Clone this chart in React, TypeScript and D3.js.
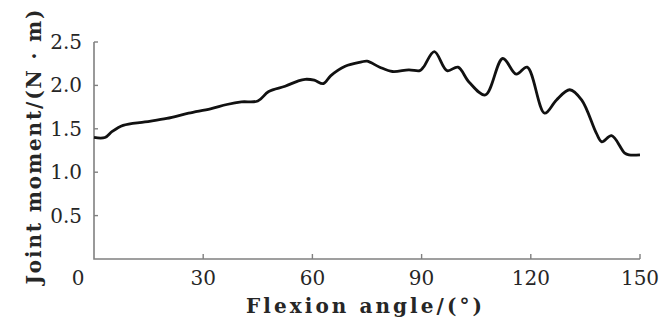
import React, { useEffect, useRef } from 'react';
import * as d3 from 'd3';

// Flexion angle (deg) and joint moment (N·m)
const angles = [0, 3, 5, 8, 14, 20, 26, 32, 36.5, 40.5, 45, 48, 52.5, 56, 58, 60.5, 63, 65, 69, 73.5, 75, 78.5, 82, 86.5, 89.5, 90.5, 93.5, 97, 100, 103, 107.5, 112.3, 116, 119, 123.8, 127, 130.7, 134, 138, 139.5, 142.2, 145.8, 147, 150];
const moments = [1.40, 1.40, 1.47, 1.54, 1.58, 1.62, 1.68, 1.73, 1.78, 1.81, 1.82, 1.93, 1.99, 2.05, 2.07, 2.06, 2.02, 2.11, 2.22, 2.27, 2.28, 2.21, 2.16, 2.18, 2.17, 2.21, 2.39, 2.17, 2.21, 2.04, 1.89, 2.31, 2.13, 2.21, 1.68, 1.83, 1.95, 1.83, 1.45, 1.35, 1.42, 1.22, 1.20, 1.20];

const xTicks = [30, 60, 90, 120, 150];
const yTicks = [0.5, 1.0, 1.5, 2.0, 2.5];

const xTitle = 'Flexion angle/(°)';
const yTitle = 'Joint moment/(N · m)';

const App = () => {
  const chartRef = useRef<SVGSVGElement>(null);

  useEffect(() => {
    const svg = d3.select(chartRef.current);
    svg.selectAll('*').remove();

    const left = 94, right = 640, top = 42, bottom = 259;
    const font = '"DejaVu Serif", serif';
    const axisColor = '#808080';
    const textColor = '#262626';

    const x = d3.scaleLinear().domain([0, 150]).range([left, right]);
    const y = d3.scaleLinear().domain([0, 2.5]).range([bottom, top]);

    // axes lines
    svg.append('path')
      .attr('d', `M${left},${top}V${bottom}H${right}`)
      .attr('fill', 'none')
      .attr('stroke', axisColor)
      .attr('stroke-width', 1.6);

    // y ticks (inward)
    svg.selectAll('.ytick')
      .data(yTicks)
      .enter().append('line')
      .attr('x1', left).attr('x2', left + 4)
      .attr('y1', d => y(d)).attr('y2', d => y(d))
      .attr('stroke', axisColor).attr('stroke-width', 1.4);

    svg.selectAll('.ylab')
      .data(yTicks)
      .enter().append('text')
      .attr('x', left - 12)
      .attr('y', d => y(d) + 7)
      .attr('text-anchor', 'end')
      .attr('font-family', font)
      .attr('font-size', 20)
      .attr('fill', textColor)
      .text(d => d.toFixed(1));

    // x ticks (inward)
    svg.selectAll('.xtick')
      .data(xTicks)
      .enter().append('line')
      .attr('x1', d => x(d)).attr('x2', d => x(d))
      .attr('y1', bottom).attr('y2', bottom - 5)
      .attr('stroke', axisColor).attr('stroke-width', 1.4);

    svg.selectAll('.xlab')
      .data(xTicks)
      .enter().append('text')
      .attr('x', d => x(d))
      .attr('y', 285)
      .attr('text-anchor', 'middle')
      .attr('font-family', font)
      .attr('font-size', 20)
      .attr('fill', textColor)
      .text(d => d);

    // shared origin label
    svg.append('text')
      .attr('x', 78).attr('y', 285)
      .attr('text-anchor', 'middle')
      .attr('font-family', font)
      .attr('font-size', 20)
      .attr('fill', textColor)
      .text('0');

    // axis titles
    svg.append('text')
      .attr('x', 364).attr('y', 313)
      .attr('text-anchor', 'middle')
      .attr('font-family', font)
      .attr('font-size', 20)
      .attr('font-weight', 'bold')
      .attr('fill', textColor)
      .attr('textLength', 236)
      .attr('lengthAdjust', 'spacing')
      .text(xTitle);

    svg.append('text')
      .attr('transform', 'translate(41,147) rotate(-90)')
      .attr('text-anchor', 'middle')
      .attr('font-family', font)
      .attr('font-size', 20)
      .attr('font-weight', 'bold')
      .attr('fill', textColor)
      .attr('textLength', 275)
      .attr('lengthAdjust', 'spacing')
      .text(yTitle);

    // curve
    const line = d3.line<number>()
      .x((d, i) => x(angles[i]))
      .y(d => y(d))
      .curve(d3.curveCatmullRom.alpha(0.5));

    svg.append('path')
      .datum(moments)
      .attr('d', line)
      .attr('fill', 'none')
      .attr('stroke', '#111')
      .attr('stroke-width', 2.8)
      .attr('stroke-linejoin', 'round');
  }, []);

  return (
    <div style={{ position: 'absolute', left: 0, top: 0 }}>
      <svg ref={chartRef} width={659} height={320} style={{ display: 'block', background: '#fff' }} />
    </div>
  );
};

export default App;
